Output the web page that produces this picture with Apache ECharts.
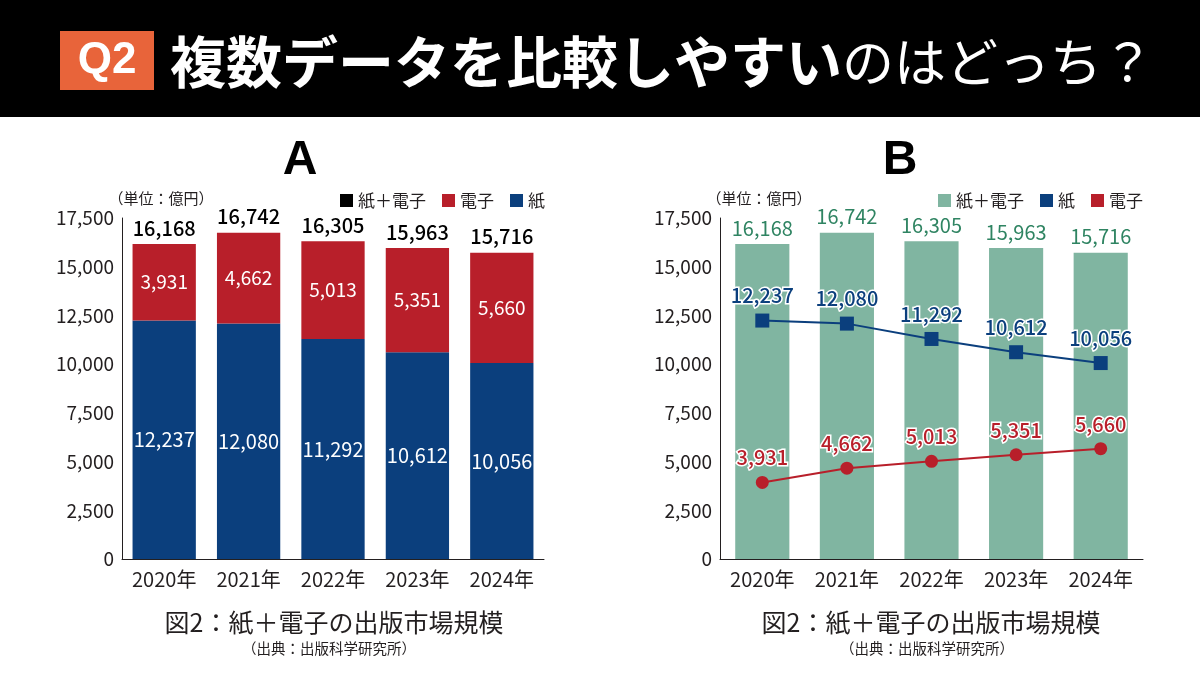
<!DOCTYPE html>
<html><head><meta charset="utf-8">
<script src="https://cdn.jsdelivr.net/npm/echarts@6/dist/echarts.min.js"></script>
<style>html,body{margin:0;padding:0;background:#fff}#c{width:1200px;height:675px}</style>
</head><body><div id="c"></div>
<script>
const years = ['2020年','2021年','2022年','2023年','2024年'];
const paper = [12237, 12080, 11292, 10612, 10056];
const digital = [3931, 4662, 5013, 5351, 5660];
const total = [16168, 16742, 16305, 15963, 15716];
const yMin = 0, yMax = 17500, yStep = 2500;

const NAVY = '#0b3f7d', RED = '#b81f2a', GREEN = '#80b5a1', GREEN_T = '#2f8462';
const FONT = '"Noto Sans CJK JP", "Noto Sans", sans-serif';
const fmt = v => Number(v).toLocaleString('en-US');

const chart = echarts.init(document.getElementById('c'), null, {renderer: 'canvas'});

function xAx(i) {
  return {type: 'category', gridIndex: i, data: years,
    axisLine: {lineStyle: {color: '#231f20', width: 1}}, axisTick: {show: false},
    axisLabel: {fontFamily: FONT, fontSize: 20, color: '#231f20', margin: 10}};
}
function yAx(i) {
  return {type: 'value', gridIndex: i, min: yMin, max: yMax, interval: yStep,
    axisLine: {show: true, lineStyle: {color: '#231f20', width: 1}}, axisTick: {show: false},
    splitLine: {show: false},
    axisLabel: {fontFamily: FONT, fontSize: 19, color: '#231f20', margin: 8, formatter: fmt}};
}
const legendCommon = {icon: 'rect', itemWidth: 13, itemHeight: 13, itemGap: 16, top: 192,
  padding: 0, selectedMode: false, textStyle: {fontFamily: FONT, fontSize: 17, color: '#231f20'}};

const option = {
  animation: false,
  backgroundColor: '#fff',
  grid: [
    {left: 122, top: 218, width: 422, height: 341},
    {left: 720, top: 218, width: 423, height: 341}
  ],
  xAxis: [xAx(0), xAx(1)],
  yAxis: [yAx(0), yAx(1)],
  legend: [
    Object.assign({}, legendCommon, {right: 655, data: [
      {name: '紙＋電子', itemStyle: {color: '#000'}},
      {name: '電子', itemStyle: {color: RED}},
      {name: '紙', itemStyle: {color: NAVY}}]}),
    Object.assign({}, legendCommon, {right: 57, data: [
      {name: '紙＋電子', itemStyle: {color: GREEN}},
      {name: '紙', itemStyle: {color: NAVY}},
      {name: '電子', itemStyle: {color: RED}}]})
  ],
  series: [
    {name: '紙', type: 'bar', stack: 'a', xAxisIndex: 0, yAxisIndex: 0, data: paper,
      barWidth: '75%', barGap: '-100%', itemStyle: {color: NAVY}, silent: true,
      label: {show: true, position: 'inside', color: '#fff', fontFamily: FONT, fontSize: 20, formatter: p => fmt(p.value)}},
    {name: '電子', type: 'bar', stack: 'a', xAxisIndex: 0, yAxisIndex: 0, data: digital,
      barWidth: '75%', barGap: '-100%', itemStyle: {color: RED}, silent: true,
      label: {show: true, position: 'inside', color: '#fff', fontFamily: FONT, fontSize: 19, formatter: p => fmt(p.value)}},
    {name: '紙＋電子', type: 'bar', xAxisIndex: 0, yAxisIndex: 0, data: total,
      barWidth: '75%', barGap: '-100%', itemStyle: {color: 'rgba(0,0,0,0)'}, silent: true,
      label: {show: true, position: 'top', distance: 6, color: '#000', fontFamily: FONT, fontSize: 20, fontWeight: 500, formatter: p => fmt(p.value)}},

    {name: '紙＋電子', type: 'bar', xAxisIndex: 1, yAxisIndex: 1, data: total,
      barWidth: '64%', itemStyle: {color: GREEN}, silent: true,
      label: {show: true, position: 'top', distance: 6, color: GREEN_T, fontFamily: FONT, fontSize: 20, formatter: p => fmt(p.value)}},
    {name: '紙', type: 'line', xAxisIndex: 1, yAxisIndex: 1, data: paper,
      symbol: 'rect', symbolSize: 14, lineStyle: {color: NAVY, width: 2}, itemStyle: {color: NAVY}, silent: true,
      label: {show: true, position: 'top', distance: 8, color: NAVY, fontFamily: FONT, fontSize: 20, fontWeight: 500,
        textBorderColor: '#fff', textBorderWidth: 3, formatter: p => fmt(p.value)}},
    {name: '電子', type: 'line', xAxisIndex: 1, yAxisIndex: 1, data: digital,
      symbol: 'circle', symbolSize: 13, lineStyle: {color: RED, width: 2}, itemStyle: {color: RED}, silent: true,
      label: {show: true, position: 'top', distance: 8, color: RED, fontFamily: FONT, fontSize: 20, fontWeight: 500,
        textBorderColor: '#fff', textBorderWidth: 3, formatter: p => fmt(p.value)}}
  ],
  graphic: [
    {type: 'rect', shape: {x: 0, y: 0, width: 1200, height: 117}, style: {fill: '#000'}, silent: true},
    {type: 'rect', shape: {x: 60, y: 31, width: 94, height: 59}, style: {fill: '#e8643a'}, silent: true},
    {type: 'text', x: 107, y: 61, silent: true, style: {text: 'Q2', fill: '#fff', font: 'bold 44px "Liberation Sans", Arial, sans-serif', textAlign: 'center', textVerticalAlign: 'middle'}},
    {type: 'text', x: 170, y: 62, silent: true, style: {
      text: '{b|複数データを比較しやすい}{n|のはどっち？}', textVerticalAlign: 'middle', textAlign: 'left',
      rich: {
        b: {fontFamily: FONT, fontSize: 56, fontWeight: 'bold', fill: '#fff', color: '#fff'},
        n: {fontFamily: FONT, fontSize: 52, fontWeight: 'normal', fill: '#fff', color: '#fff'}
      }}},
    {type: 'text', x: 300, y: 161, silent: true, style: {text: 'A', fill: '#000', font: 'bold 48px "Liberation Sans", Arial, sans-serif', textAlign: 'center', textVerticalAlign: 'middle'}},
    {type: 'text', x: 900, y: 161, silent: true, style: {text: 'B', fill: '#000', font: 'bold 48px "Liberation Sans", Arial, sans-serif', textAlign: 'center', textVerticalAlign: 'middle'}},
    {type: 'text', x: 161, y: 198, silent: true, style: {text: '（単位：億円）', fill: '#231f20', font: '15px ' + FONT, textAlign: 'center', textVerticalAlign: 'middle'}},
    {type: 'text', x: 759, y: 198, silent: true, style: {text: '（単位：億円）', fill: '#231f20', font: '15px ' + FONT, textAlign: 'center', textVerticalAlign: 'middle'}},
    {type: 'text', x: 334, y: 622, silent: true, style: {text: '図2：紙＋電子の出版市場規模', fill: '#231f20', font: '25px ' + FONT, textAlign: 'center', textVerticalAlign: 'middle'}},
    {type: 'text', x: 329, y: 648, silent: true, style: {text: '（出典：出版科学研究所）', fill: '#231f20', font: '14.5px ' + FONT, textAlign: 'center', textVerticalAlign: 'middle'}},
    {type: 'text', x: 931, y: 622, silent: true, style: {text: '図2：紙＋電子の出版市場規模', fill: '#231f20', font: '25px ' + FONT, textAlign: 'center', textVerticalAlign: 'middle'}},
    {type: 'text', x: 927, y: 648, silent: true, style: {text: '（出典：出版科学研究所）', fill: '#231f20', font: '14.5px ' + FONT, textAlign: 'center', textVerticalAlign: 'middle'}}
  ]
};
chart.setOption(option);
</script></body></html>
